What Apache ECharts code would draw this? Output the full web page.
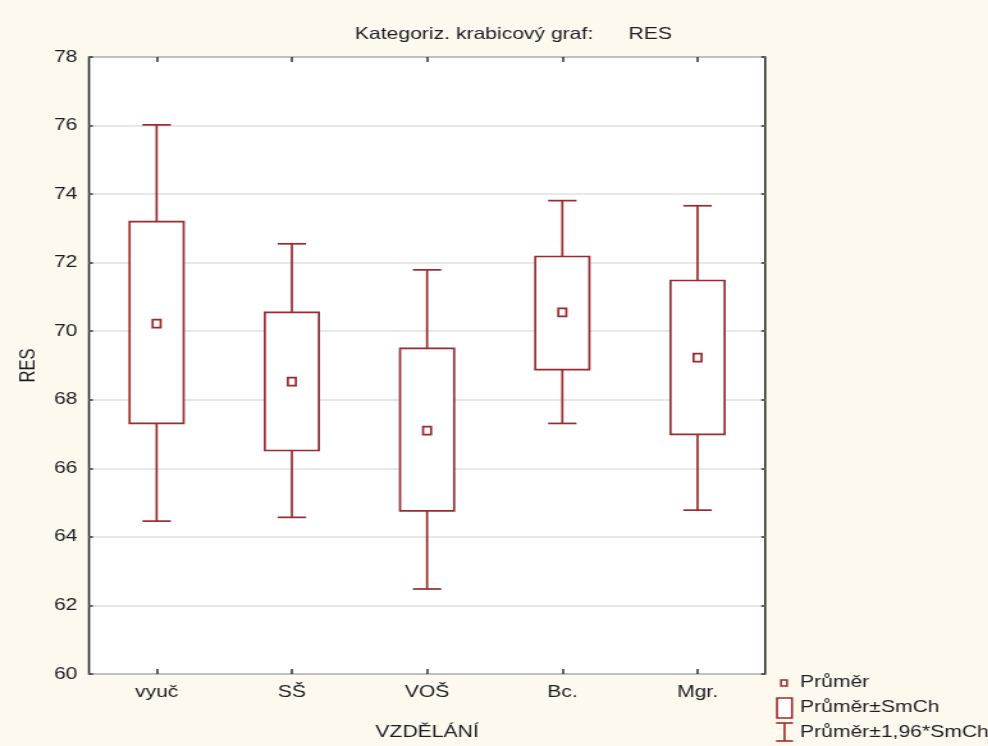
<!DOCTYPE html>
<html><head><meta charset="utf-8">
<script src="https://cdn.jsdelivr.net/npm/echarts@6/dist/echarts.min.js"></script>
<style>
html,body{margin:0;padding:0;background:#fef9ee;overflow:hidden;width:988px;height:746px;}
/* the reference image is horizontally stretched; reproduce that by scaling the whole chart */
#c{width:771.875px;height:746px;transform:scaleX(1.28);transform-origin:0 0;}
</style>
</head><body><div id="c"></div>
<script>
const categories = ['vyuč', 'SŠ', 'VOŠ', 'Bc.', 'Mgr.'];
const meanVals   = [70.22, 68.53, 67.10, 70.55, 69.23];
const boxLow     = [67.31, 66.52, 64.76, 68.88, 66.99];
const boxHigh    = [73.20, 70.55, 69.50, 72.18, 71.48];
const whiskLow   = [64.46, 64.57, 62.48, 67.31, 64.78];
const whiskHigh  = [76.02, 72.55, 71.79, 73.81, 73.66];
const yTicks = {min: 60, max: 78, interval: 2};
const legendLabels = ['Průměr', 'Průměr±SmCh', 'Průměr±1,96*SmCh'];

const SX = 1.28;
const RED = '#9a2a2e';
const TXT = '#1c1c24';
const FONT = 'Liberation Sans, Arial, sans-serif';
const FS = 16.5;
const data = categories.map((c, i) => [i, whiskLow[i], boxLow[i], meanVals[i], boxHigh[i], whiskHigh[i]]);

const chart = echarts.init(document.getElementById('c'), null, {renderer: 'canvas'});
const tickStyle = {color: '#2e2e2e', width: 1.5};
chart.setOption({
  backgroundColor: '#fef9ee',
  animation: false,
  title: {
    text: 'Kategoriz. krabicový graf:      RES',
    left: 507 / SX, top: 21, textAlign: 'center',
    textStyle: {fontFamily: FONT, fontSize: FS, fontWeight: 'normal', color: TXT}
  },
  grid: {left: 89 / SX, top: 57, right: (988 - 765) / SX, bottom: 71, show: true, backgroundColor: '#ffffff', borderColor: '#2e2e2e', borderWidth: 1.6},
  xAxis: [{
    type: 'category', data: categories, position: 'bottom',
    name: 'VZDĚLÁNÍ', nameLocation: 'middle', nameGap: 50,
    nameTextStyle: {fontFamily: FONT, fontSize: FS, color: TXT},
    axisLine: {show: false},
    axisTick: {show: true, inside: true, alignWithLabel: true, length: 5, lineStyle: tickStyle},
    axisLabel: {fontFamily: FONT, fontSize: FS, color: TXT, margin: 10},
    splitLine: {show: false}
  }, {
    type: 'category', data: categories, position: 'top',
    axisLine: {show: false},
    axisTick: {show: true, inside: true, alignWithLabel: true, length: 5, lineStyle: tickStyle},
    axisLabel: {show: false}
  }],
  yAxis: [{
    type: 'value', min: yTicks.min, max: yTicks.max, interval: yTicks.interval,
    name: 'RES', nameLocation: 'middle', nameGap: 38, nameRotate: 90,
    nameTextStyle: {fontFamily: FONT, fontSize: FS, color: TXT},
    axisLine: {show: false},
    axisTick: {show: true, inside: true, length: 3, lineStyle: tickStyle},
    axisLabel: {fontFamily: FONT, fontSize: FS, color: TXT, margin: 9},
    splitLine: {show: true, lineStyle: {color: '#e0e0e0', width: 1.6}}
  }, {
    type: 'value', min: yTicks.min, max: yTicks.max, interval: yTicks.interval, position: 'right',
    axisLine: {show: false},
    axisTick: {show: true, inside: true, length: 3, lineStyle: tickStyle},
    axisLabel: {show: false},
    splitLine: {show: false}
  }],
  series: [{
    type: 'custom',
    data: data,
    encode: {x: 0, y: [1, 2, 3, 4, 5]},
    renderItem: function (params, api) {
      const idx = api.value(0);
      const band = api.size([1, 0])[0];
      const bw = band * 0.4, cw = band * 0.21, mw = 8 / SX, mh = 8;
      const pLo = api.coord([idx, api.value(1)]);
      const pQ1 = api.coord([idx, api.value(2)]);
      const pM  = api.coord([idx, api.value(3)]);
      const pQ3 = api.coord([idx, api.value(4)]);
      const pHi = api.coord([idx, api.value(5)]);
      const x = pM[0];
      const st = {stroke: RED, lineWidth: 1.7, fill: null};
      return {type: 'group', children: [
        {type: 'line', shape: {x1: x, y1: pHi[1], x2: x, y2: pQ3[1]}, style: st},
        {type: 'line', shape: {x1: x, y1: pQ1[1], x2: x, y2: pLo[1]}, style: st},
        {type: 'line', shape: {x1: x - cw / 2, y1: pHi[1], x2: x + cw / 2, y2: pHi[1]}, style: st},
        {type: 'line', shape: {x1: x - cw / 2, y1: pLo[1], x2: x + cw / 2, y2: pLo[1]}, style: st},
        {type: 'rect', shape: {x: x - bw / 2, y: pQ3[1], width: bw, height: pQ1[1] - pQ3[1]}, style: {stroke: RED, lineWidth: 1.7, fill: '#ffffff'}},
        {type: 'rect', shape: {x: x - mw / 2, y: pM[1] - mh / 2, width: mw, height: mh}, style: {stroke: RED, lineWidth: 1.7, fill: '#ffffff'}}
      ]};
    }
  }],
  graphic: [
    {type: 'rect', shape: {x: 781 / SX, y: 680, width: 6 / SX, height: 6}, style: {stroke: RED, lineWidth: 1.5, fill: '#fff'}},
    {type: 'text', x: 800 / SX, y: 682, style: {text: legendLabels[0], font: FS + 'px ' + FONT, fill: TXT, verticalAlign: 'middle'}},
    {type: 'rect', shape: {x: 777 / SX, y: 698, width: 15 / SX, height: 20}, style: {stroke: RED, lineWidth: 1.6, fill: '#fff'}},
    {type: 'text', x: 800 / SX, y: 707, style: {text: legendLabels[1], font: FS + 'px ' + FONT, fill: TXT, verticalAlign: 'middle'}},
    {type: 'line', shape: {x1: 776 / SX, y1: 723, x2: 793 / SX, y2: 723}, style: {stroke: RED, lineWidth: 1.6}},
    {type: 'line', shape: {x1: 784.5 / SX, y1: 723, x2: 784.5 / SX, y2: 741}, style: {stroke: RED, lineWidth: 1.6}},
    {type: 'line', shape: {x1: 776 / SX, y1: 741, x2: 793 / SX, y2: 741}, style: {stroke: RED, lineWidth: 1.6}},
    {type: 'text', x: 800 / SX, y: 732, style: {text: legendLabels[2], font: FS + 'px ' + FONT, fill: TXT, verticalAlign: 'middle'}}
  ]
});
</script></body></html>
